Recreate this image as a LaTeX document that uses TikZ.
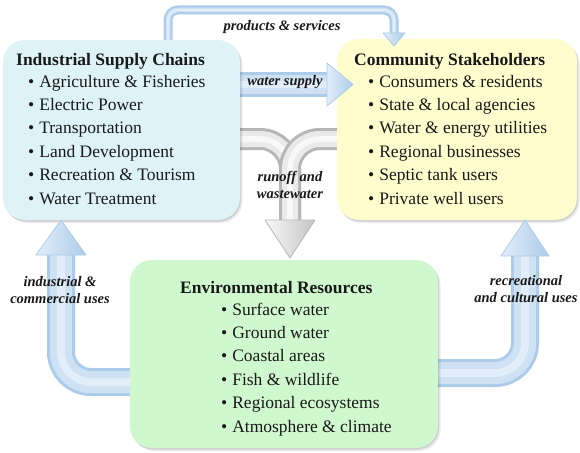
\documentclass[tikz,border=0pt]{standalone}
\usepackage{fontspec}
\setmainfont{Liberation Serif}
\usetikzlibrary{shadows}
\pgfdeclarelayer{back}
\pgfsetlayers{back,main}

\definecolor{iscfill}{RGB}{221,243,248}
\definecolor{csfill}{RGB}{255,253,206}
\definecolor{erfill}{RGB}{208,248,206}
\definecolor{tubeedge}{RGB}{172,204,233}
\definecolor{tubecore}{RGB}{206,226,244}
\definecolor{tubeshine}{RGB}{226,238,249}
\definecolor{greyedge}{RGB}{182,182,182}
\definecolor{greycore}{RGB}{234,234,234}
\definecolor{greyshine}{RGB}{248,248,248}
\definecolor{inkc}{RGB}{25,25,25}

\tikzset{
  panel/.style={rounded corners=22pt, inner sep=0pt, draw=none,
    drop shadow={shadow xshift=2.5pt, shadow yshift=-3pt, opacity=.08, fill=black},
    drop shadow={shadow xshift=1pt, shadow yshift=-1.5pt, opacity=.12, fill=black}},
  paneltitle/.style={anchor=base west, inner sep=0pt,
    font=\fontsize{17.5}{20}\selectfont\bfseries, text=inkc},
  panelitem/.style={anchor=base west, inner sep=0pt,
    font=\fontsize{17.5}{20}\selectfont, text=inkc},
  flowlabel/.style={align=center, inner sep=0pt,
    font=\fontsize{14.5}{17.5}\selectfont\bfseries\itshape, text=inkc},
  bluetube/.style n args={2}{draw=tubeedge, line width=#1,
    postaction={draw=tubecore, line width=#2},
    postaction={draw=tubeshine, line width=#2*0.35}},
  greytube/.style n args={2}{draw=greyedge, line width=#1,
    postaction={draw=greycore, line width=#2},
    postaction={draw=greyshine, line width=#2*0.35}},
  bluehead/.style={left color=tubeshine, right color=tubeedge, draw=tubeedge, line width=.8pt, line join=round},
  greyhead/.style={left color=greyshine, right color=greyedge!80, draw=greyedge, line width=.8pt, line join=round},
}

\begin{document}
\begin{tikzpicture}[x=1pt,y=-1pt]
\useasboundingbox (0,0) rectangle (580,452);
\begin{pgfonlayer}{back}
  \fill[white] (0,0) rectangle (580,452);
\end{pgfonlayer}

% the three panels
\node[panel, fill=iscfill, minimum width=237pt, minimum height=180pt] (isc) at (121.5,130) {};
\node[panel, fill=csfill,  minimum width=240pt, minimum height=181pt] (cs)  at (457,129.5) {};
\node[panel, fill=erfill,  minimum width=308pt, minimum height=188pt] (er)  at (284,354) {};

% routing points of the flows
\coordinate (psA) at (168,60);
\coordinate (psB) at (168,10);
\coordinate (psC) at (394,10);
\coordinate (psD) at (394,34);
\coordinate (psTip) at (394,46);

\coordinate (wsA) at (200,84.5);
\coordinate (wsB) at (328,84.5);
\coordinate (wsTip) at (353,84.5);

\coordinate (rwL) at (230,139);
\coordinate (rwR) at (350,139);
\coordinate (rwM) at (290,139);
\coordinate (rwD) at (290,221);
\coordinate (rwTip) at (290,258);

\coordinate (icA) at (140,382);
\coordinate (icB) at (61,382);
\coordinate (icC) at (61,255);
\coordinate (icTip) at (61,220);

\coordinate (rcA) at (430,373);
\coordinate (rcB) at (525,373);
\coordinate (rcC) at (525,256);
\coordinate (rcTip) at (525,220);

% flow bodies, behind the panels
\begin{pgfonlayer}{back}
  \draw[bluetube={9pt}{4.5pt}, rounded corners=10pt] (psA) -- (psB) -- (psC) -- (psD);
  \draw[bluetube={25pt}{19pt}] (wsA) -- (wsB);
  \draw[greytube={22pt}{16pt}, rounded corners=30pt] (rwL) -- (rwM) -- (rwD);
  \draw[greytube={22pt}{16pt}, rounded corners=30pt] (rwR) -- (rwM) -- (rwD);
  \draw[bluetube={28pt}{22pt}, rounded corners=30pt] (icA) -- (icB) -- (icC);
  \draw[bluetube={28pt}{22pt}, rounded corners=30pt] (rcA) -- (rcB) -- (rcC);
\end{pgfonlayer}

% arrow heads
\path[bluehead] (psTip) -- ++(-11,-13) -- ++(22,0) -- cycle;
\path[bluehead] (wsTip) -- ++(-26,-21.5) -- ++(0,43) -- cycle;
\path[greyhead] (rwTip) -- ++(-25,-38) -- ++(50,0) -- cycle;
\path[bluehead] (icTip) -- ++(-25,35) -- ++(50,0) -- cycle;
\path[bluehead] (rcTip) -- ++(-24,36) -- ++(48,0) -- cycle;

% flow labels
\node[flowlabel] (lblps) at (282,27) {products \& services};
\node[flowlabel] (lblws) at (285,82) {water supply};
\node[flowlabel] (lblrw) at (290,185) {runoff and\\wastewater};
\node[flowlabel] (lblic) at (60,290) {industrial \&\\commercial uses};
\node[flowlabel] (lblrc) at (526,289) {recreational\\and cultural uses};

% panel contents
\node[paneltitle] (isct) at (16,65) {Industrial Supply Chains};
\foreach \t [count=\i] in {Agriculture \& Fisheries, Electric Power, Transportation,
    Land Development, Recreation \& Tourism, Water Treatment}
  \node[panelitem] (isc\i) at (28,63.6+23.4*\i) {\textbullet\hspace{5pt}\t};

\node[paneltitle] (cst) at (354,65) {Community Stakeholders};
\foreach \t [count=\i] in {Consumers \& residents, State \& local agencies,
    Water \& energy utilities, Regional businesses, Septic tank users, Private well users}
  \node[panelitem] (cs\i) at (368,63.6+23.4*\i) {\textbullet\hspace{5pt}\t};

\node[paneltitle] (ert) at (180,293) {Environmental Resources};
\foreach \t [count=\i] in {Surface water, Ground water, Coastal areas,
    Fish \& wildlife, Regional ecosystems, Atmosphere \& climate}
  \node[panelitem] (er\i) at (221,291.6+23.4*\i) {\textbullet\hspace{5pt}\t};
\end{tikzpicture}
\end{document}
